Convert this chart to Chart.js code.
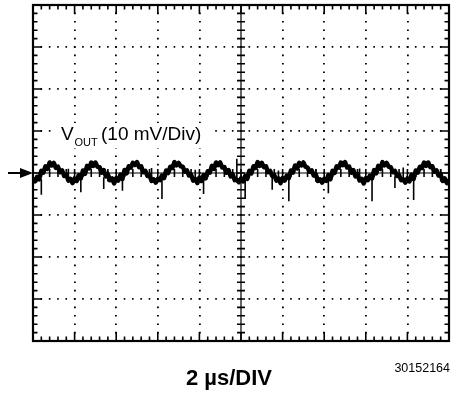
<!DOCTYPE html>
<html>
<head>
<meta charset="utf-8">
<script src="https://cdn.jsdelivr.net/npm/chart.js@4.4.1/dist/chart.umd.min.js"></script>
<style>
  html, body { margin: 0; padding: 0; background: #fff; }
  #caixa { width: 453px; height: 403px; position: relative; }
</style>
</head>
<body>
<div id="caixa"><canvas id="osciloscopio"></canvas></div>
<script>
const passoAmostra = 0.1 // µs entre amostras
const vout = [
  -1.2, -2.0, -0.9, -1.5, 0.5, 0.1, 1.6, 1.0, 2.5, 1.8, 2.4, 1.2, 1.5, 0.2, 0.6, -0.7, -0.4, -1.8, -1.4, -2.4,
  -1.3, -1.9, -0.5, -1.3, 0.6, -0.2, 1.7, 1.1, 2.5, 1.7, 2.5, 1.5, 1.4, 0.1, 0.7, -0.8, -0.3, -1.7, -1.3, -2.5,
  -1.2, -1.8, -0.4, -1.4, 0.7, -0.1, 1.6, 1.3, 2.4, 1.9, 2.6, 1.4, 1.6, 0.2, 0.5, -0.7, -0.5, -1.9, -1.5, -2.3,
  -1.4, -1.7, -0.6, -1.2, 0.6, 0.0, 1.5, 1.2, 2.6, 1.8, 2.4, 1.6, 1.5, 0.3, 0.6, -0.6, -0.4, -1.8, -1.4, -2.4,
  -1.1, -1.9, -0.5, -1.3, 0.4, 0.1, 1.7, 1.0, 2.5, 1.9, 2.5, 1.3, 1.4, 0.1, 0.7, -0.8, -0.3, -1.7, -1.6, -2.2,
  -1.3, -2.0, -0.7, -1.4, 0.5, -0.1, 1.6, 1.2, 2.6, 1.7, 2.4, 1.4, 1.6, 0.2, 0.5, -0.7, -0.5, -1.8, -1.3, -2.4,
  -1.2, -1.8, -0.6, -1.2, 0.6, 0.1, 1.8, 1.1, 2.4, 1.8, 2.5, 1.5, 1.3, 0.3, 0.6, -0.6, -0.4, -1.9, -1.5, -2.3,
  -1.4, -1.9, -0.5, -1.5, 0.5, 0.0, 1.6, 1.3, 2.5, 1.9, 2.6, 1.3, 1.5, 0.1, 0.7, -0.8, -0.3, -1.8, -1.4, -2.5,
  -1.2, -1.7, -0.6, -1.3, 0.7, -0.1, 1.7, 1.0, 2.6, 1.8, 2.4, 1.5, 1.4, 0.2, 0.5, -0.7, -0.5, -1.7, -1.5, -2.3,
  -1.3, -2.0, -0.4, -1.4, 0.6, 0.1, 1.5, 1.2, 2.5, 1.7, 2.5, 1.4, 1.6, 0.3, 0.6, -0.6, -0.4, -1.9, -1.3, -2.4,
  -1.6
]
// picos de ruído (instante, de, até)
const picoTempo = [0.4, 1.7, 2.3, 3.4, 3.6, 4.3, 5.7, 6.2, 7.8, 8.2, 9.8, 10.2, 11.5, 11.8, 12.3, 13.6, 14.2, 15.7, 16.3, 17.4, 17.8, 18.3, 19.6]
const picoDe =    [-1.5, -1.8, -1.4, -1.0, -2.0, -1.3, -1.8, -1.4, -1.9, -1.3, -2.0, -1.4, -0.9, -2.0, -1.4, -2.1, -1.3, -1.9, -1.4, -0.8, -2.0, -1.4, -2.0]
const picoAte =   [-5.2, 1.0, -4.6, -3.8, 0.5, -4.2, 1.2, -6.2, 0.8, -5.0, 3.4, -6.2, -4.0, 0.6, -6.7, 0.9, -4.8, 1.1, -6.7, -3.6, 1.3, -6.4, 0.9]

const escalaX = { min: 0, max: 20, passo: 2 }   // 2 µs/DIV
const escalaY = { min: -40, max: 40, passo: 10 } // 10 mV/Div

const fonte = '"Liberation Sans", Arial, Helvetica, sans-serif'

const pontosTraco = vout.map((v, i) => ({ x: +(i * passoAmostra).toFixed(2), y: v }))
const pontosPicos = []
for (let i = 0; i < picoTempo.length; i++) {
    pontosPicos.push({ x: picoTempo[i], y: picoDe[i] })
    pontosPicos.push({ x: picoTempo[i], y: picoAte[i] })
    pontosPicos.push({ x: picoTempo[i], y: null })
}

// retícula do osciloscópio: moldura, marcas e cruz central
const reticula = {
    id: 'reticula',
    beforeDatasetsDraw(chart) {
        const { ctx, chartArea: a, scales: { x, y } } = chart
        const cx = x.getPixelForValue((escalaX.min + escalaX.max) / 2)
        const cy = y.getPixelForValue(0)
        ctx.save()
        ctx.strokeStyle = '#000'
        ctx.lineWidth = 1.2
        ctx.beginPath()
        ctx.moveTo(cx, a.top); ctx.lineTo(cx, a.bottom)
        ctx.moveTo(a.left, cy); ctx.lineTo(a.right, cy)
        ctx.stroke()

        ctx.lineWidth = 1.6
        ctx.beginPath()
        const subX = escalaX.passo / 5
        for (let k = 1; k < 50; k++) {
            const px = x.getPixelForValue(escalaX.min + k * subX)
            const maior = k % 5 === 0
            const l = maior ? 9 : 4.5
            ctx.moveTo(px, a.top); ctx.lineTo(px, a.top + l)
            ctx.moveTo(px, a.bottom); ctx.lineTo(px, a.bottom - l)
            ctx.moveTo(px, cy - 4); ctx.lineTo(px, cy + 4)
        }
        const subY = escalaY.passo / 5
        for (let k = 1; k < 40; k++) {
            const py = y.getPixelForValue(escalaY.min + k * subY)
            const maior = k % 5 === 0
            const l = maior ? 9 : 4.5
            ctx.moveTo(a.left, py); ctx.lineTo(a.left + l, py)
            ctx.moveTo(a.right, py); ctx.lineTo(a.right - l, py)
            ctx.moveTo(cx - 4, py); ctx.lineTo(cx + 4, py)
        }
        ctx.stroke()

        ctx.lineWidth = 2.2
        ctx.strokeRect(a.left, a.top, a.right - a.left, a.bottom - a.top)
        ctx.restore()
    },
    afterDraw(chart) {
        const { ctx, scales: { x, y } } = chart
        const cy = y.getPixelForValue(0)
        ctx.save()
        ctx.fillStyle = '#000'
        ctx.strokeStyle = '#000'
        // seta do nível zero
        ctx.lineWidth = 2
        ctx.beginPath()
        ctx.moveTo(8, cy); ctx.lineTo(21, cy)
        ctx.stroke()
        ctx.beginPath()
        ctx.moveTo(20, cy - 5); ctx.lineTo(33, cy); ctx.lineTo(20, cy + 5)
        ctx.closePath()
        ctx.fill()

        // rótulo do canal
        ctx.fillStyle = '#fff'
        ctx.fillRect(57, 123, 155, 25)
        ctx.fillStyle = '#000'
        ctx.textBaseline = 'alphabetic'
        ctx.textAlign = 'left'
        ctx.font = '19px ' + fonte
        ctx.fillText('V', 61, 140)
        ctx.font = '11px ' + fonte
        ctx.fillText('OUT', 74.5, 145.5)
        ctx.font = '19px ' + fonte
        ctx.fillText('(10 mV/Div)', 101, 140)

        // escala horizontal e código da figura
        ctx.font = 'bold 22px ' + fonte
        ctx.textAlign = 'center'
        ctx.fillText('2 µs/DIV', 229, 385)
        ctx.font = '12.5px ' + fonte
        ctx.textAlign = 'right'
        ctx.fillText('30152164', 450, 372)
        ctx.restore()
    }
}

const interno = v => v > escalaX.min && v < escalaX.max
new Chart(document.getElementById('osciloscopio'), {
    type: 'line',
    data: {
        datasets: [{
            label: 'VOUT',
            data: pontosTraco,
            borderColor: '#000',
            borderWidth: 4.5,
            borderJoinStyle: 'round',
            pointRadius: 0,
            tension: 0
        }, {
            label: 'Picos',
            data: pontosPicos,
            borderColor: '#000',
            borderWidth: 1.6,
            pointRadius: 0,
            spanGaps: false
        }]
    },
    options: {
        responsive: true,
        maintainAspectRatio: false,
        animation: false,
        layout: { padding: { left: 33, top: 5, right: 4, bottom: 62 } },
        plugins: { legend: { display: false }, tooltip: { enabled: false } },
        scales: {
            x: {
                type: 'linear',
                min: escalaX.min,
                max: escalaX.max,
                ticks: { stepSize: escalaX.passo, display: false },
                grid: {
                    drawTicks: false,
                    lineWidth: 1.8,
                    color: c => (interno(c.tick.value) && c.tick.value !== 10) ? '#000' : 'rgba(0,0,0,0)'
                },
                border: { display: false, dash: [1.6, 6.8], dashOffset: 0.8 }
            },
            y: {
                min: escalaY.min,
                max: escalaY.max,
                ticks: { stepSize: escalaY.passo, display: false },
                grid: {
                    drawTicks: false,
                    lineWidth: 1.8,
                    color: c => (c.tick.value > escalaY.min && c.tick.value < escalaY.max && c.tick.value !== 0) ? '#000' : 'rgba(0,0,0,0)'
                },
                border: { display: false, dash: [1.6, 6.72], dashOffset: 0.8 }
            }
        }
    },
    plugins: [reticula]
})
</script>
</body>
</html>
